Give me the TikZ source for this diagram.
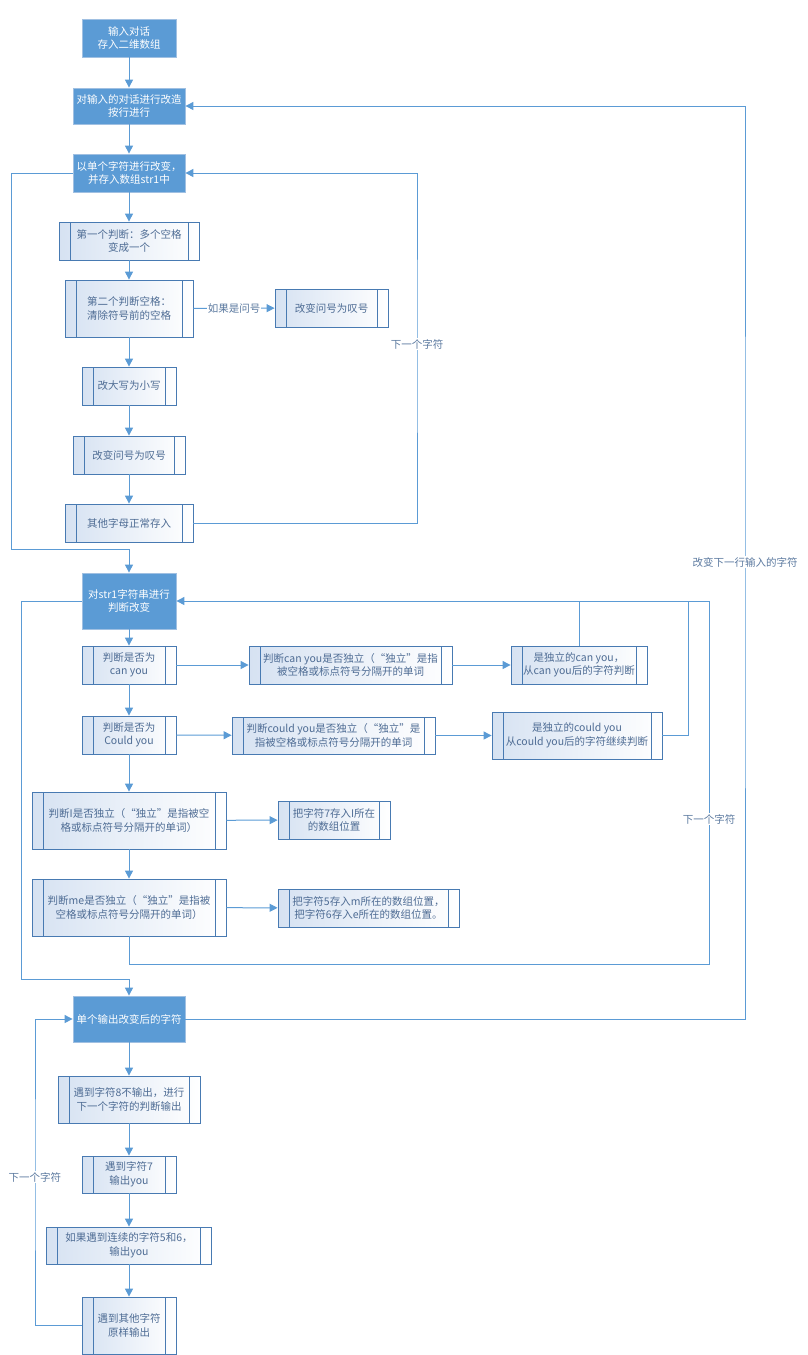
\documentclass[tikz,border=0pt]{standalone}
\usepackage{fontspec}
\newfontfamily\cjk{Noto Sans CJK SC}
\usepackage{tikz}
\usetikzlibrary{arrows.meta,positioning,calc}
\usepackage{xcolor}
\tikzset{>={Triangle[length=8pt,width=8pt]}}
\definecolor{lineblue}{RGB}{91,155,213}
\definecolor{fillblue}{RGB}{91,155,213}
\definecolor{edgeblue}{RGB}{160,192,226}
\definecolor{subedge}{RGB}{72,122,178}
\definecolor{subfill}{RGB}{214,226,242}
\definecolor{subtext}{RGB}{78,108,148}
\definecolor{labeltext}{RGB}{92,122,160}
\begin{document}
\begin{tikzpicture}[x=1pt,y=-1pt,
  every node/.style={font=\cjk\fontsize{10.5}{13.5}\selectfont},
  mainbox/.style 2 args={draw=edgeblue,line width=0.8pt,fill=fillblue,text=white,
    minimum width=#1,minimum height=#2,align=center,inner sep=1pt},
  subbox/.style 2 args={draw=subedge,line width=0.8pt,left color=subfill,right color=white,
    text=subtext,minimum width=#1,minimum height=#2,align=center,inner sep=1pt,
    path picture={\draw[subedge,line width=0.8pt]
      ([xshift=11pt]path picture bounding box.north west) -- ([xshift=11pt]path picture bounding box.south west)
      ([xshift=-11pt]path picture bounding box.north east) -- ([xshift=-11pt]path picture bounding box.south east);}},
  looplabel/.style={fill=white,text=labeltext,inner sep=1pt},
  line/.style={draw=lineblue,line width=1pt},
  arr/.style={line,->,>={Triangle[length=8pt,width=8pt]},color=lineblue}]
  \useasboundingbox (0,0) rectangle (807,1355);

  \node[mainbox={94pt}{38pt}] (in1) at (129,38) {输入对话\\存入二维数组};
  \node[mainbox={112pt}{36pt}] (rowb) at (129,106) {对输入的对话进行改造\\按行进行};
  \node[mainbox={112pt}{38pt}] (charb) at (129,173) {以单个字符进行改变，\\并存入数组str1中};
  \node[subbox={140pt}{38pt}] (j1) at (129,241) {第一个判断：多个空格\\变成一个};
  \node[subbox={128pt}{57pt}] (j2) at (129,308.5) {第二个判断空格：\\清除符号前的空格};
  \node[subbox={113pt}{38pt}] (j2q) at (331.5,308) {改变问号为叹号};
  \node[subbox={94pt}{38pt}] (low) at (129,386) {改大写为小写};
  \node[subbox={112pt}{38pt}] (qm) at (129,455) {改变问号为叹号};
  \node[subbox={128pt}{38pt}] (other) at (129,523) {其他字母正常存入};

  \node[mainbox={94pt}{56pt}] (strb) at (129,601) {对str1字符串进行\\判断改变};
  \node[subbox={94pt}{38pt}] (can) at (129,665) {判断是否为\\can you};
  \node[subbox={203pt}{38pt}] (canr) at (350.5,665) {判断can you是否独立（“独立”是指\\被空格或标点符号分隔开的单词};
  \node[subbox={136pt}{38pt}] (canrr) at (579,665) {是独立的can you，\\从can you后的字符判断};
  \node[subbox={94pt}{38pt}] (could) at (129,735) {判断是否为\\Could you};
  \node[subbox={203pt}{37pt}] (couldr) at (333.5,735.5) {判断could you是否独立（“独立”是\\指被空格或标点符号分隔开的单词};
  \node[subbox={170pt}{47pt}] (couldrr) at (577,735.5) {是独立的could you\\从could you后的字符继续判断};
  \node[subbox={194pt}{57pt}] (ii) at (129,820.5) {判断I是否独立（“独立”是指被空\\格或标点符号分隔开的单词）};
  \node[subbox={112pt}{38pt}] (iir) at (334,820) {把字符7存入I所在\\的数组位置};
  \node[subbox={194pt}{57pt}] (me) at (129,907.5) {判断me是否独立（“独立”是指被\\空格或标点符号分隔开的单词）};
  \node[subbox={181pt}{38pt}] (mer) at (368.5,908) {把字符5存入m所在的数组位置，\\把字符6存入e所在的数组位置。};

  \node[mainbox={112pt}{46pt}] (outb) at (129,1019) {单个输出改变后的字符};
  \node[subbox={142pt}{47pt}] (o8) at (129,1099.5) {遇到字符8不输出，进行\\下一个字符的判断输出};
  \node[subbox={94pt}{37pt}] (o7) at (129,1174.5) {遇到字符7\\输出you};
  \node[subbox={165pt}{37pt}] (o56) at (129,1245.5) {如果遇到连续的字符5和6，\\输出you};
  \node[subbox={94pt}{57pt}] (oth) at (129,1325.5) {遇到其他字符\\原样输出};

  \foreach \a/\b in {in1/rowb,rowb/charb,charb/j1,j1/j2,j2/low,low/qm,qm/other,
    strb/can,can/could,could/ii,ii/me,can/canr,canr/canrr,could/couldr,couldr/couldrr,
    ii/iir,me/mer,outb/o8,o8/o7,o7/o56,o56/oth}
    \draw[arr] (\a) -- (\b);
  \draw[arr] (j2) -- node[looplabel,text=labeltext] (ifq) {如果是问号} (j2q);

  \coordinate (cright) at (417,344);
  \coordinate (cleft) at (11,549);
  \coordinate (sbot) at (709,964);
  \coordinate (cjoin) at (688,601);
  \coordinate (sleft) at (21,979);
  \coordinate (oleft) at (35,1177);
  \coordinate (rright) at (745,562);

  \draw[arr] (other.east) -| (cright) |- (charb.east);
  \draw[arr] (charb.west) -| (cleft) -| (strb.north);
  \draw[arr] (me.south) |- (sbot) |- (strb.east);
  \draw[line] (canrr.north) -- (canrr.north |- strb.east);
  \draw[line] (couldrr.east) -| (cjoin);
  \draw[arr] (strb.west) -| (sleft) -| (outb.north);
  \draw[arr] (oth.west) -| (oleft) |- (outb.west);
  \draw[arr] (outb.east) -| (rright) |- (rowb.east);

  \node[looplabel] (nextc) at (cright) {下一个字符};
  \node[looplabel] (nexts) at (709,819) {下一个字符};
  \node[looplabel] (nexto) at (oleft) {下一个字符};
  \node[looplabel] (nextrow) at (rright) {改变下一行输入的字符};
\end{tikzpicture}
\end{document}
